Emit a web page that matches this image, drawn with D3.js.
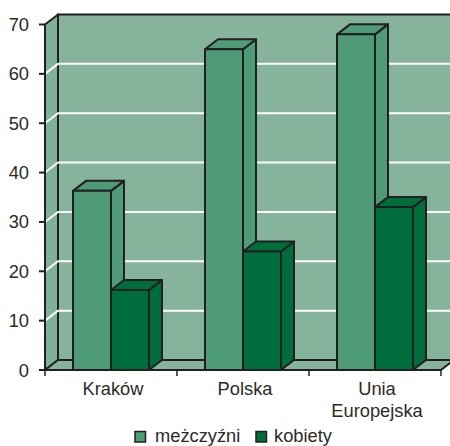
<!DOCTYPE html>
<html>
<head>
<meta charset="utf-8">
<script src="https://cdn.jsdelivr.net/npm/d3@7/dist/d3.min.js"></script>
<style>
html,body{margin:0;padding:0;background:#fff;overflow:hidden}
svg{display:block}
text{font-family:"Liberation Sans",Arial,sans-serif;fill:#2b2a29}
</style>
</head>
<body>
<svg id="chart" width="450" height="446"></svg>
<script>
// Survey shares per region, split by sex
const regions = [["Kraków"], ["Polska"], ["Unia", "Europejska"]];
const regionKeys = ["Kraków", "Polska", "Unia Europejska"];
const seriesNames = ["meżczyźni", "kobiety"];
const men = [36.3, 65, 68];
const women = [16.2, 24, 33];
const yTicks = [0, 10, 20, 30, 40, 50, 60, 70];

const ink = "#231f20";
const wallFill = "#85b39b";
const wallSide = "#7fb197";
const menFill = "#4f9b78";
const womenFill = "#006e3c";
const depthX = 13, depthY = -10;
const labelSize = 18.3;

const svg = d3.select("#chart");
const x = d3.scaleBand().domain(regionKeys).range([45, 441]);
const y = d3.scaleLinear().domain([0, 70]).range([370, 24.5]);

const stroke = 2;
const poly = (pts, fill) => svg.append("polygon")
  .attr("points", pts.map(p => p.join(",")).join(" "))
  .attr("fill", fill).attr("stroke", ink).attr("stroke-width", stroke)
  .attr("stroke-linejoin", "round");

const left = x.range()[0], right = x.range()[1];
const pageRight = 452;

// Oblique walls and floor of the plot box
poly([[left, y(0)], [left + depthX, y(0) + depthY], [left + depthX, y(70) + depthY], [left, y(70)]], wallSide);
svg.append("rect").attr("x", left + depthX).attr("y", y(70) + depthY)
  .attr("width", pageRight - left - depthX).attr("height", y(0) - y(70))
  .attr("fill", wallFill).attr("stroke", ink).attr("stroke-width", stroke);
poly([[left, y(0)], [left + depthX, y(0) + depthY], [right + depthX, y(0) + depthY], [right, y(0)]], wallFill);

// White gridlines folding across the side and back walls
yTicks.filter(d => d > 0 && d < 70).forEach(d => {
  svg.append("path")
    .attr("d", `M${left},${y(d)}L${left + depthX},${y(d) + depthY}L${pageRight},${y(d) + depthY}`)
    .attr("fill", "none").attr("stroke", "#fff").attr("stroke-width", 2);
});

// Blocks, drawn back to front within each region
const barW = 38;
const groupStart = r => x(r) + 28;
function block(x0, value, fill) {
  const x1 = x0 + barW, top = y(value), base = y(0);
  poly([[x1, base], [x1 + depthX, base + depthY], [x1 + depthX, top + depthY], [x1, top]], fill);
  poly([[x0, top], [x0 + depthX, top + depthY], [x1 + depthX, top + depthY], [x1, top]], fill);
  poly([[x0, base], [x0, top], [x1, top], [x1, base]], fill);
}
regionKeys.forEach((r, i) => {
  block(groupStart(r), men[i], menFill);
  block(groupStart(r) + barW, women[i], womenFill);
});

// Floor front edge
svg.append("line").attr("x1", left).attr("x2", right).attr("y1", y(0)).attr("y2", y(0))
  .attr("stroke", ink).attr("stroke-width", stroke);

// Value axis
const yAxis = svg.append("g");
yAxis.append("line").attr("x1", left).attr("x2", left).attr("y1", y(70)).attr("y2", y(0))
  .attr("stroke", ink).attr("stroke-width", stroke);
yTicks.forEach(d => {
  yAxis.append("line").attr("x1", left - 6).attr("x2", left).attr("y1", y(d)).attr("y2", y(d))
    .attr("stroke", ink).attr("stroke-width", stroke);
  yAxis.append("text").attr("x", 29).attr("y", y(d) + 6.5).attr("text-anchor", "end")
    .attr("font-size", labelSize).text(d);
});

// Category axis with ticks between regions
[left, left + x.step(), left + 2 * x.step(), right].forEach(t => {
  svg.append("line").attr("x1", t).attr("x2", t).attr("y1", y(0)).attr("y2", y(0) + 6)
    .attr("stroke", ink).attr("stroke-width", 1.5);
});
regions.forEach((lines, i) => {
  const cx = x(regionKeys[i]) + x.bandwidth() / 2 + 2;
  lines.forEach((t, j) => {
    svg.append("text").attr("x", cx).attr("y", 395 + j * 22).attr("text-anchor", "middle")
      .attr("font-size", labelSize).text(t);
  });
});

// Legend
const legendSwatchX = [135, 256];
const legendTextX = [155, 274];
const legendFills = [menFill, womenFill];
const legendBase = 441.5;
seriesNames.forEach((name, i) => {
  svg.append("rect").attr("x", legendSwatchX[i]).attr("y", legendBase - 10).attr("width", 10.5).attr("height", 10.5)
    .attr("fill", legendFills[i]).attr("stroke", ink).attr("stroke-width", 1.5);
  svg.append("text").attr("x", legendTextX[i]).attr("y", legendBase).attr("font-size", labelSize).text(name);
});
</script>
</body>
</html>
